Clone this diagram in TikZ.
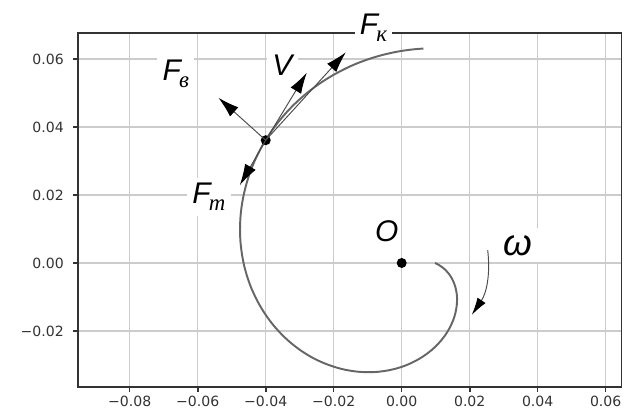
\documentclass[tikz,border=0pt]{standalone}
\usepackage{fontspec}
\setmainfont{DejaVu Sans}
\newfontfamily\labfont{Liberation Sans}
\newfontfamily\subfont{Liberation Serif}
\usetikzlibrary{arrows.meta}
\newcommand\sublab[1]{\raisebox{-0.45ex}{\subfont\itshape\fontsize{13}{13}\selectfont #1}}
\begin{document}
\begin{tikzpicture}[x=68cm,y=68cm,
  gridline/.style={draw=black!20, line width=0.7pt},
  frameline/.style={draw=black!80, line width=0.9pt},
  spiralline/.style={draw=black!60, line width=1.1pt},
  force/.style={draw=black!70, line width=0.55pt, -{Latex[length=12pt,width=7pt,color=black]}},
  rotarrow/.style={draw=black!70, line width=0.55pt, -{Latex[length=10pt,width=5.5pt,color=black]}},
  dotn/.style={circle, fill=black, inner sep=0pt, minimum size=0.2cm},
  lab/.style={fill=white, inner sep=3pt, font=\labfont\itshape\fontsize{17}{17}\selectfont},
  ticklab/.style={font=\fontsize{8}{8}\selectfont, text=black!80, inner sep=0pt},
  declare function={rr(\t)=0.0098+0.0101*\t+0.005*(1-exp(-2.5*\t));}]

\useasboundingbox (-0.11815,-0.04471) rectangle (0.06774,0.07735);

% grid
\foreach \x in {-0.08,-0.06,-0.04,-0.02,0,0.02,0.04,0.06}
  \draw[gridline] (\x,-0.0365) -- (\x,0.0677);
\foreach \y in {-0.02,0,0.02,0.04,0.06}
  \draw[gridline] (-0.0952,\y) -- (0.0647,\y);

% spiral
\draw[spiralline] plot[domain=0:4.814, samples=160, smooth, variable=\t]
  ({rr(\t)*cos(\t r)}, {-rr(\t)*sin(\t r)});

% frame and ticks
\draw[frameline] (-0.0952,-0.0365) rectangle (0.0647,0.0677);
\foreach \x/\l in {-0.08/−0.08,-0.06/−0.06,-0.04/−0.04,-0.02/−0.02,0/0.00,0.02/0.02,0.04/0.04,0.06/0.06} {
  \draw[frameline] (\x,-0.0365) -- (\x,-0.0380);
  \node[ticklab] at (\x,-0.0406) {\l};
}
\foreach \y/\l in {-0.02/−0.02,0/0.00,0.02/0.02,0.04/0.04,0.06/0.06} {
  \draw[frameline] (-0.0952,\y) -- (-0.0967,\y);
  \node[ticklab, anchor=east] at (-0.0993,\y) {\l};
}

% points
\node[dotn] (P) at (-0.0400,0.0361) {};
\node[dotn] (O) at (0,0) {};

% force arrow ends
\coordinate (tipFv) at (-0.0539,0.0486);
\coordinate (tipV)  at (-0.0279,0.0560);
\coordinate (tipFk) at (-0.0164,0.0620);
\coordinate (tipFt) at (-0.0476,0.0229);
\draw[force] (P.center) -- (tipFv);
\draw[force] (P.center) -- (tipV);
\draw[force] (P.center) -- (tipFk);
\draw[force] (P.center) -- (tipFt);

% rotation arrow
\coordinate (wS) at (0.0253,0.0038);
\coordinate (wE) at (0.0206,-0.0153);
\draw[rotarrow] (wS) to[bend left=20] (wE);

% labels
\node[lab] (lFk) at (-0.0083,0.0691) {F\kern-1pt\sublab{к}};
\node[lab] (lFv) at (-0.0664,0.0556) {F\kern-1pt\sublab{в}};
\node[lab] (lV)  at (-0.0351,0.0582) {V};
\node[lab] (lFt) at (-0.0567,0.0195) {F\kern-1pt\sublab{т}};
\node[lab, fill=none] (lO) at (-0.0044,0.0092) {O};
\node[lab, inner sep=4pt, font=\labfont\itshape\fontsize{21}{21}\selectfont] (lw) at (0.0342,0.0052) {ω};
\end{tikzpicture}
\end{document}
